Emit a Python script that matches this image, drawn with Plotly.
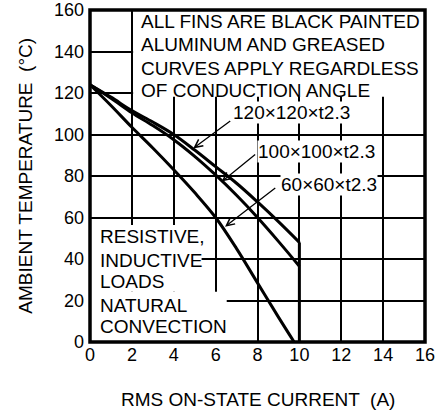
import plotly.graph_objects as go

# RMS on-state current (A) sample points for each heat-sink curve
current_120 = [0, 1, 2, 3, 4, 5, 6, 7, 8, 9, 10]
temp_120 = [124, 118, 111.5, 106, 100, 92.5, 84.5, 76.5, 67.5, 58, 48]

current_100 = [0, 1, 2, 3, 4, 5, 6, 7, 8, 9, 10]
temp_100 = [124, 117.5, 110.5, 104.3, 97.5, 89.5, 80.5, 70.7, 60, 48.5, 36.5]

current_60 = [0, 1, 2, 3, 4, 5, 6, 7, 8, 9, 9.75]
temp_60 = [124, 114, 103.5, 93.5, 83, 72, 60, 45, 28.5, 12, 0]

# Maximum current limit (vertical cut-off)
cutoff_current = [10, 10]
cutoff_temp = [48, 0]

x_ticks = [0, 2, 4, 6, 8, 10, 12, 14, 16]
y_ticks = [0, 20, 40, 60, 80, 100, 120, 140, 160]

curve_labels = ["120×120×t2.3", "100×100×t2.3", "60×60×t2.3"]

note_top = ["ALL FINS ARE BLACK PAINTED", "ALUMINUM AND GREASED",
            "CURVES APPLY REGARDLESS", "OF CONDUCTION ANGLE"]
note_bottom = ["RESISTIVE,", "INDUCTIVE", "LOADS", "NATURAL", "CONVECTION"]

FONT = "Liberation Sans, Arial, Helvetica, sans-serif"
fig = go.Figure()

line_style = dict(color="black", width=3)
for xs, ys in [(current_120, temp_120), (current_100, temp_100),
               (current_60, temp_60), (cutoff_current, cutoff_temp)]:
    fig.add_trace(go.Scatter(x=xs, y=ys, mode="lines", line=line_style,
                             line_shape="spline", hoverinfo="skip",
                             showlegend=False))

# White panels that hide the grid behind the notes
panels = [
    dict(x0=2.06, x1=16, y0=118.2, y1=160),
    dict(x0=0, x1=5.33, y0=24.2, y1=56.4),
    dict(x0=0, x1=6.53, y0=0, y1=24.2),
]
for p in panels:
    fig.add_shape(type="rect", xref="x", yref="y", layer="above",
                  fillcolor="white", line=dict(width=0), **p)

# Plot frame
fig.add_shape(type="rect", xref="paper", yref="paper", x0=0, x1=1, y0=0, y1=1,
              line=dict(color="black", width=3.5), layer="above")

txt = dict(family=FONT, size=19, color="black")
tick_font = dict(family=FONT, size=18, color="black")

# Note lines, one annotation per line
top_rows = [154.4, 143.2, 132.0, 121.4]
for line, yv in zip(note_top, top_rows):
    fig.add_annotation(x=2.34, y=yv, xref="x", yref="y", xanchor="left",
                       yanchor="middle", showarrow=False, font=txt, text=line)
bottom_rows = [50.8, 39.5, 29.0, 17.8, 7.7]
for line, yv in zip(note_bottom, bottom_rows):
    fig.add_annotation(x=0.38, y=yv, xref="x", yref="y", xanchor="left",
                       yanchor="middle", showarrow=False, font=txt, text=line)

# Curve labels with leader arrows
label_pos = [(6.78, 110.5), (7.96, 91.7), (9.07, 75.7)]
arrow_tip = [(4.93, 93.3), (6.29, 77.3), (6.45, 55.6)]
arrow_tail = [(6.77, 107), (7.96, 90.9), (8.92, 74.8)]
for name, (lx, ly), (tx, ty), (ax, ay) in zip(curve_labels, label_pos,
                                               arrow_tip, arrow_tail):
    fig.add_annotation(x=tx, y=ty, ax=ax, ay=ay, xref="x", yref="y",
                       axref="x", ayref="y", text="", showarrow=True,
                       arrowhead=5, arrowsize=1.2, arrowwidth=1.3,
                       arrowcolor="black")
    fig.add_annotation(x=lx, y=ly, xref="x", yref="y", xanchor="left",
                       yanchor="middle", showarrow=False, font=txt, text=name,
                       bgcolor="white", borderpad=0)

# Axis titles
fig.add_annotation(x=0.5, y=-0.1717, xref="paper", yref="paper",
                   xanchor="center", yanchor="middle", showarrow=False,
                   font=txt, text="RMS ON-STATE CURRENT \u00a0(A)")
fig.add_annotation(x=-0.195, y=0.5, xref="paper", yref="paper",
                   xanchor="center", yanchor="middle", showarrow=False,
                   font=txt, textangle=-90,
                   text="AMBIENT TEMPERATURE \u00a0(°C)")

grid = dict(showgrid=True, gridcolor="black", gridwidth=2, zeroline=False,
            showline=False, ticks="", tickfont=tick_font, automargin=False)
fig.update_xaxes(range=[0, 16], tickvals=x_ticks,
                 ticktext=[str(v) for v in x_ticks], **grid)
fig.update_yaxes(range=[0, 160], tickvals=y_ticks,
                 ticktext=[str(v) for v in y_ticks], ticklabelstandoff=5,
                 **grid)

fig.update_layout(width=437, height=414, plot_bgcolor="white",
                  paper_bgcolor="white",
                  margin=dict(l=90, r=12, t=10, b=72),
                  font=dict(family=FONT, color="black"))

fig.write_html("out.html")
